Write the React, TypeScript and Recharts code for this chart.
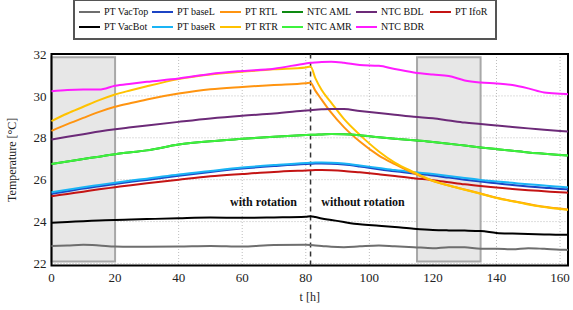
import React from 'react';
import {
  LineChart,
  Line,
  XAxis,
  YAxis,
  CartesianGrid,
  ReferenceArea,
  ReferenceLine,
  ReferenceDot,
} from 'recharts';

// time axis [h]
const hours = [0, 5, 10, 15, 20, 25, 30, 40, 50, 60, 70, 80, 81.5, 83, 85, 88, 92, 97, 103, 108, 114, 120, 125, 130, 135, 140, 145, 150, 155, 160, 162.5];

const ptVacTop = [22.84, 22.86, 22.89, 22.86, 22.81, 22.8, 22.8, 22.81, 22.84, 22.81, 22.88, 22.89, 22.88, 22.86, 22.84, 22.8, 22.78, 22.82, 22.86, 22.82, 22.78, 22.73, 22.78, 22.77, 22.7, 22.71, 22.68, 22.73, 22.7, 22.66, 22.65];
const ptVacBot = [23.95, 23.98, 24.02, 24.05, 24.08, 24.1, 24.12, 24.16, 24.19, 24.18, 24.2, 24.23, 24.26, 24.22, 24.15, 24.08, 23.98, 23.87, 23.8, 23.74, 23.66, 23.6, 23.58, 23.57, 23.55, 23.46, 23.43, 23.41, 23.39, 23.37, 23.37];
const ptBaseL = [25.33, 25.45, 25.58, 25.69, 25.8, 25.9, 25.99, 26.19, 26.37, 26.53, 26.65, 26.75, 26.76, 26.77, 26.77, 26.76, 26.72, 26.63, 26.5, 26.4, 26.3, 26.2, 26.1, 26.0, 25.91, 25.83, 25.75, 25.68, 25.62, 25.56, 25.54];
const ptBaseR = [25.4, 25.52, 25.64, 25.75, 25.86, 25.96, 26.05, 26.25, 26.42, 26.58, 26.7, 26.8, 26.81, 26.82, 26.82, 26.81, 26.77, 26.68, 26.56, 26.46, 26.36, 26.27, 26.18, 26.08, 25.99, 25.92, 25.85, 25.78, 25.72, 25.66, 25.64];
const ptRTL = [28.33, 28.65, 28.95, 29.24, 29.48, 29.66, 29.83, 30.11, 30.32, 30.43, 30.52, 30.6, 30.63, 30.25, 29.82, 29.2, 28.51, 27.82, 27.15, 26.74, 26.3, 25.93, 25.72, 25.53, 25.34, 25.14, 24.98, 24.84, 24.71, 24.62, 24.58];
const ptRTR = [28.8, 29.16, 29.48, 29.8, 30.07, 30.27, 30.46, 30.8, 31.02, 31.15, 31.27, 31.36, 31.4, 30.85, 30.28, 29.68, 28.9, 28.14, 27.35, 26.82, 26.36, 25.95, 25.72, 25.52, 25.33, 25.13, 24.97, 24.82, 24.7, 24.6, 24.56];
const ntcAML = [26.75, 26.87, 26.99, 27.1, 27.22, 27.31, 27.4, 27.68, 27.84, 27.95, 28.05, 28.13, 28.14, 28.15, 28.16, 28.18, 28.17, 28.12, 28.03, 27.96, 27.88, 27.8, 27.72, 27.63, 27.54, 27.46, 27.38, 27.3, 27.24, 27.18, 27.15];
const ntcAMR = [26.75, 26.87, 26.99, 27.1, 27.22, 27.31, 27.4, 27.68, 27.84, 27.95, 28.05, 28.13, 28.14, 28.15, 28.16, 28.18, 28.17, 28.12, 28.03, 27.96, 27.88, 27.8, 27.72, 27.63, 27.54, 27.46, 27.38, 27.3, 27.24, 27.18, 27.15];
const ntcBDL = [27.92, 28.05, 28.17, 28.3, 28.41, 28.5, 28.59, 28.76, 28.92, 29.05, 29.16, 29.3, 29.32, 29.34, 29.36, 29.38, 29.37, 29.28, 29.18, 29.1, 29.0, 28.93, 28.83, 28.73, 28.66, 28.59, 28.52, 28.45, 28.39, 28.33, 28.3];
const ntcBDR = [30.22, 30.28, 30.3, 30.3, 30.48, 30.58, 30.67, 30.83, 31.05, 31.19, 31.3, 31.55, 31.58, 31.6, 31.62, 31.63, 31.58, 31.47, 31.44, 31.28, 31.12, 31.02, 30.95, 30.74, 30.64, 30.59, 30.52, 30.36, 30.16, 30.1, 30.08];
const ptIfoR = [25.21, 25.32, 25.43, 25.54, 25.64, 25.74, 25.83, 26.0, 26.16, 26.27, 26.37, 26.44, 26.45, 26.46, 26.46, 26.45, 26.42, 26.35, 26.26, 26.18, 26.07, 25.98, 25.88, 25.78, 25.7, 25.63, 25.56, 25.5, 25.45, 25.4, 25.38];

const xTicks = [0, 20, 40, 60, 80, 100, 120, 140, 160];
const yTicks = [22, 24, 26, 28, 30, 32];

// legend order (2 rows x 6 columns, column-major like the original)
const series = [
  { key: 'vacTop', name: 'PT VacTop', color: '#6e6e6e', values: ptVacTop },
  { key: 'vacBot', name: 'PT VacBot', color: '#000000', values: ptVacBot },
  { key: 'baseL', name: 'PT baseL', color: '#1c44c4', values: ptBaseL },
  { key: 'baseR', name: 'PT baseR', color: '#1ab4f5', values: ptBaseR },
  { key: 'rtl', name: 'PT RTL', color: '#ff9410', values: ptRTL },
  { key: 'rtr', name: 'PT RTR', color: '#ffc200', values: ptRTR },
  { key: 'aml', name: 'NTC AML', color: '#0e8a12', values: ntcAML },
  { key: 'amr', name: 'NTC AMR', color: '#3df23d', values: ntcAMR },
  { key: 'bdl', name: 'NTC BDL', color: '#6c2a78', values: ntcBDL },
  { key: 'bdr', name: 'NTC BDR', color: '#ff1cff', values: ntcBDR },
  { key: 'ifoR', name: 'PT IfoR', color: '#c41414', values: ptIfoR },
];

// draw order: bottom to top
const drawOrder = ['vacTop', 'vacBot', 'ifoR', 'baseL', 'baseR', 'rtl', 'rtr', 'aml', 'amr', 'bdl', 'bdr'];

const data = hours.map((t, i) => {
  const row: Record<string, number> = { t };
  series.forEach(s => {
    row[s.key] = s.values[i];
  });
  return row;
});

const FONT = '"Liberation Serif", "DejaVu Serif", serif';

function LegendBox() {
  const colWidths = [73, 68, 62, 74, 74, 62];
  const columns = [0, 1, 2, 3, 4, 5].map(c => series.slice(c * 2, c * 2 + 2));
  return (
    <div
      style={{
        position: 'absolute',
        left: 73,
        top: -1,
        width: 416,
        height: 34,
        border: '2px solid #555',
        background: '#fff',
        display: 'flex',
        paddingLeft: 4,
        paddingTop: 3,
        fontFamily: FONT,
        fontSize: 10,
        color: '#111',
      }}
    >
      {columns.map((col, ci) => (
        <div key={ci} style={{ width: colWidths[ci] }}>
          {col.map(s => (
            <div key={s.key} style={{ display: 'flex', alignItems: 'center', height: 15 }}>
              <span style={{ display: 'inline-block', width: 21, height: 2, background: s.color, marginRight: 4 }} />
              <span style={{ whiteSpace: 'nowrap' }}>{s.name}</span>
            </div>
          ))}
        </div>
      ))}
    </div>
  );
}

export default function App() {
  return (
    <div style={{ position: 'relative', width: 573, height: 310, fontFamily: FONT, background: '#fff' }}>
      <style>{'body{margin:0;}'}</style>
      <LineChart
        width={573}
        height={310}
        data={data}
        margin={{ top: 54, right: 5, bottom: 0, left: 0 }}
      >
        <CartesianGrid stroke="#bdbdbd" strokeDasharray="1 2" />
        <XAxis
          type="number"
          dataKey="t"
          domain={[0, 162.5]}
          ticks={xTicks}
          height={44.4}
          tickSize={0}
          tickMargin={7}
          axisLine={false}
          tick={{ fontSize: 13, fill: '#222' }}
          label={{ value: 't [h]', position: 'insideBottom', offset: 9, style: { fontSize: 12, fill: '#222' } }}
        />
        <YAxis
          type="number"
          domain={[21.9, 32]}
          ticks={yTicks}
          width={51.5}
          tickSize={0}
          tickMargin={5}
          axisLine={false}
          allowDataOverflow
          tick={{ fontSize: 13, fill: '#222' }}
          label={{
            value: 'Temperature [°C]',
            angle: -90,
            position: 'insideLeft',
            offset: 12,
            style: { fontSize: 12, fill: '#222', textAnchor: 'middle' },
          }}
        />
        <ReferenceArea x1={0} x2={20} y1={22.1} y2={31.85} fill="#e7e7e7" fillOpacity={1} stroke="#a8a8a8" strokeWidth={2} />
        <ReferenceArea x1={115} x2={135} y1={22.1} y2={31.85} fill="#e7e7e7" fillOpacity={1} stroke="#a8a8a8" strokeWidth={2} />
        <ReferenceLine x={81.5} stroke="#333" strokeWidth={1.5} strokeDasharray="5 4" />
        <ReferenceDot
          x={66.7}
          y={24.97}
          r={0}
          fill="none"
          stroke="none"
          label={{ value: 'with rotation', position: 'center', style: { fontSize: 12, fontWeight: 'bold', fill: '#111' } }}
        />
        <ReferenceDot
          x={98}
          y={24.97}
          r={0}
          fill="none"
          stroke="none"
          label={{ value: 'without rotation', position: 'center', style: { fontSize: 12, fontWeight: 'bold', fill: '#111' } }}
        />
        {drawOrder.map(k => {
          const s = series.find(x => x.key === k)!;
          return (
            <Line
              key={s.key}
              type="monotone"
              dataKey={s.key}
              name={s.name}
              stroke={s.color}
              strokeWidth={2}
              dot={false}
              isAnimationActive={false}
            />
          );
        })}
        <ReferenceArea x1={0} x2={162.5} y1={21.9} y2={32} fill="none" stroke="#000" strokeWidth={2} />
      </LineChart>
      <LegendBox />
    </div>
  );
}
